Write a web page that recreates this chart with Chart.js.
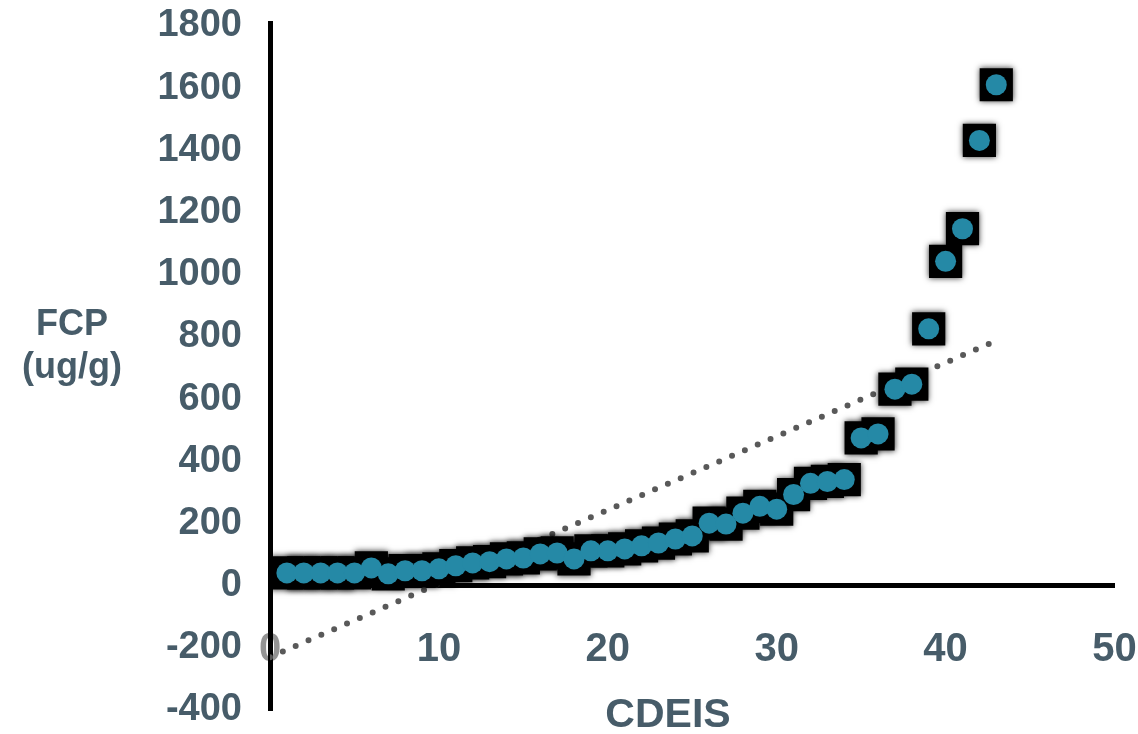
<!DOCTYPE html>
<html lang="en">

<head>
  <meta charset="UTF-8">
  <title>FCP x CDEIS</title>
  <script src="https://cdn.jsdelivr.net/npm/chart.js"></script>
  <style>
    html, body { margin: 0; padding: 0; background: #ffffff; }
    #grafico_box { position: relative; width: 1138px; height: 734px; }
  </style>
</head>

<body>
  <div id="grafico_box">
    <canvas id="graficoFcp"></canvas>
  </div>
</body>

</html>
<script>
  // dados
  var cdeis = [1, 2, 3, 4, 5, 6, 7, 8, 9, 10, 11, 12, 13, 14, 15, 16, 17, 18, 19, 20, 21, 22,
    23, 24, 25, 26, 27, 28, 29, 30, 31, 32, 33, 34, 35, 36, 37, 38, 39, 40, 41, 42, 43];
  var fcp = [41, 41, 41, 41, 41, 57, 38, 48, 48, 54, 64, 73, 77, 86, 89, 102, 105, 86, 112, 112, 118, 128,
    137, 150, 160, 201, 198, 233, 255, 246, 293, 329, 335, 341, 475, 488, 632, 648, 826, 1043, 1148, 1432, 1611];

  // linha de tendência (extremos)
  var tendenciaX = [0, 43];
  var tendenciaY = [-230, 788];

  var ticksX = [0, 10, 20, 30, 40, 50];
  var ticksY = [-400, -200, 0, 200, 400, 600, 800, 1000, 1200, 1400, 1600, 1800];

  var corTexto = '#475c69';
  var corPonto = '#2589a6';
  var fonte = "'Liberation Sans', Arial, sans-serif";

  var pontos = [];
  for (var i = 0; i < cdeis.length; i++) {
    pontos.push({ x: cdeis[i], y: fcp[i] });
  }

  var tendencia = [];
  for (var j = 0; j < tendenciaX.length; j++) {
    tendencia.push({ x: tendenciaX[j], y: tendenciaY[j] });
  }

  // sombra borrada nos quadrados pretos
  var sombraPlugin = {
    id: 'sombra',
    beforeDatasetDraw: function (chart, args) {
      if (args.index === 0) {
        chart.ctx.save();
        chart.ctx.shadowColor = 'rgba(0,0,0,0.8)';
        chart.ctx.shadowBlur = 6;
      }
    },
    afterDatasetDraw: function (chart, args) {
      if (args.index === 0) {
        chart.ctx.restore();
      }
    }
  };

  // títulos dos eixos na horizontal
  var titulosPlugin = {
    id: 'titulos',
    afterDraw: function (chart) {
      var ctx = chart.ctx;
      ctx.save();
      ctx.fillStyle = corTexto;
      ctx.textAlign = 'center';
      ctx.textBaseline = 'alphabetic';
      ctx.font = 'bold 36px ' + fonte;
      ctx.fillText('FCP', 72, 335);
      ctx.fillText('(ug/g)', 72, 378);
      ctx.font = 'bold 41px ' + fonte;
      ctx.fillText('CDEIS', 668, 727);
      ctx.restore();
    }
  };

  var ctx = document.getElementById('graficoFcp').getContext('2d');
  var myChart = new Chart(ctx, {
    type: 'scatter',
    data: {
      datasets: [{
        label: 'borda',
        data: pontos,
        pointStyle: 'rect',
        pointRadius: 23.5,
        pointHoverRadius: 23.5,
        backgroundColor: '#000000',
        borderColor: '#000000',
        borderWidth: 0,
        order: 2
      }, {
        label: 'FCP',
        data: pontos,
        pointStyle: 'circle',
        pointRadius: 10.5,
        pointHoverRadius: 10.5,
        backgroundColor: corPonto,
        borderColor: corPonto,
        borderWidth: 0,
        order: 1
      }, {
        label: 'Tendência',
        type: 'line',
        data: tendencia,
        showLine: true,
        pointRadius: 0,
        borderColor: '#595959',
        borderWidth: 6,
        borderDash: [0, 14],
        borderCapStyle: 'round',
        fill: false,
        order: 3
      }]
    },
    options: {
      responsive: true,
      maintainAspectRatio: false,
      animation: false,
      layout: {
        padding: { left: 0, right: 23, top: 8, bottom: 24 }
      },
      plugins: {
        legend: { display: false },
        tooltip: { enabled: false }
      },
      scales: {
        x: {
          type: 'linear',
          position: { y: 0 },
          min: 0,
          max: 50,
          afterBuildTicks: function (scale) {
            scale.ticks = ticksX.map(function (v) { return { value: v }; });
          },
          afterFit: function (scale) {
            scale.paddingLeft = 0;
            scale.paddingRight = 0;
          },
          grid: { display: false, drawTicks: false },
          border: { display: true, color: '#000000', width: 5 },
          ticks: {
            padding: 40,
            color: function (c) {
              return c.tick && c.tick.value === 0 ? 'rgba(60,60,60,0.55)' : corTexto;
            },
            font: { family: fonte, size: 40, weight: 'bold' }
          }
        },
        y: {
          type: 'linear',
          position: 'left',
          min: -400,
          max: 1808,
          afterBuildTicks: function (scale) {
            scale.ticks = ticksY.map(function (v) { return { value: v }; });
          },
          afterFit: function (scale) {
            scale.width = 270;
            scale.paddingTop = 0;
            scale.paddingBottom = 0;
          },
          grid: { display: false, drawTicks: false },
          border: { display: true, color: '#000000', width: 5 },
          ticks: {
            padding: 28,
            color: corTexto,
            font: { family: fonte, size: 38, weight: 'bold' },
            callback: function (valor) {
              return String(valor);
            }
          }
        }
      }
    },
    plugins: [sombraPlugin, titulosPlugin]
  });
</script>
